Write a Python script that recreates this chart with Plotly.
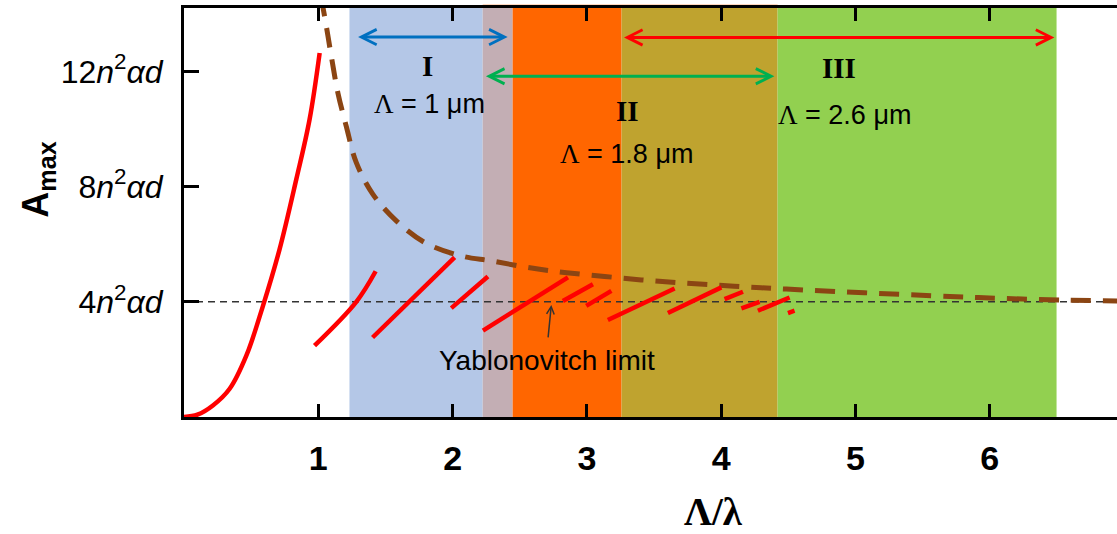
import plotly.graph_objects as go

# ---------------- data ----------------
# red curve for Lambda/lambda < 1
curve_x = [0.0, 0.1, 0.215, 0.340, 0.464, 0.588, 0.712, 0.836, 0.935, 1.01]
curve_y = [0.0, 0.08, 0.40, 0.98, 2.13, 3.86, 5.83, 8.25, 10.33, 12.64]

# brown dashed upper-limit curve
limit_x = [1.02, 1.060, 1.097, 1.146, 1.208, 1.283, 1.407, 1.581, 1.792, 2.065, 2.288,
           2.588, 2.849, 3.132, 3.405, 3.666, 3.938, 4.212, 4.485, 5.576, 6.073, 6.570, 6.95]
limit_y = [14.6, 13.56, 12.52, 11.25, 10.10, 8.83, 7.73, 6.81, 6.06, 5.59, 5.42,
           5.17, 5.01, 4.88, 4.76, 4.67, 4.59, 4.51, 4.44, 4.21, 4.12, 4.06, 4.03]

# red grating segments
seg_x = [[0.972, 1.283, 1.427], [1.404, 2.015], [1.990, 2.263], [2.226, 2.859],
         [2.821, 3.045], [2.995, 3.182], [3.156, 3.653], [3.603, 4.001],
         [4.025, 4.162], [4.150, 4.286], [4.273, 4.509], [4.497, 4.546]]
seg_y = [[2.48, 4.00, 5.06], [2.76, 5.54], [3.78, 4.88], [3.00, 4.85],
         [4.03, 4.61], [3.86, 4.38], [3.37, 4.46], [3.61, 4.50],
         [4.09, 4.35], [3.77, 4.00], [3.69, 4.15], [3.61, 3.69]]

yablonovitch = 4.0

# regions
region_names = ["I", "II", "III"]
region_periods = ["1", "1.8", "2.6"]
region_x0 = [1.232, 2.224, 3.258]
region_x1 = [2.447, 4.420, 6.497]
arrow_x0 = [1.285, 2.237, 3.265]
arrow_x1 = [2.410, 4.396, 6.481]
arrow_y = [13.19, 11.83, 13.18]

x_ticks = [1, 2, 3, 4, 5, 6]
y_ticks = [4, 8, 12]
y_ticktext = [f"{v}<i>n</i><sup>2</sup><i>α</i><i>d</i>" for v in y_ticks]

# ---------------- style ----------------
band_colors = ["#B4C7E7", "#C3AEB4", "#FF6600", "#BFA32F", "#92D050"]
arrow_colors = ["#0070C0", "#00B050", "#FF0000"]
X_RANGE = [0, 6.947]
Y_RANGE = [0, 14.2]

fig = go.Figure()

# background bands
edges = sorted(set(region_x0 + region_x1))
for i in range(len(edges) - 1):
    fig.add_shape(type="rect", xref="x", yref="paper", x0=edges[i], x1=edges[i + 1],
                  y0=0, y1=1, fillcolor=band_colors[i], line_width=0, layer="below")
# orange (region II) extends slightly above the frame
fig.add_shape(type="rect", xref="x", yref="paper", x0=region_x0[1], x1=region_x1[1],
              y0=1, y1=1.008, fillcolor="#FF6600", line_width=0, layer="below")

# Yablonovitch limit line
fig.add_trace(go.Scatter(x=X_RANGE, y=[yablonovitch, yablonovitch], mode="lines",
                         line=dict(color="#333333", width=1.5, dash="7px,5px"),
                         hoverinfo="skip", showlegend=False))

# upper-limit brown dashed curve
fig.add_trace(go.Scatter(x=limit_x, y=limit_y, mode="lines",
                         line=dict(color="#8B4513", width=5, dash="20px,12px", shape="spline"),
                         showlegend=False))

# red curve
fig.add_trace(go.Scatter(x=curve_x, y=curve_y, mode="lines",
                         line=dict(color="#FF0000", width=4.5, shape="spline", smoothing=1.0),
                         showlegend=False))
for sx, sy in zip(seg_x, seg_y):
    fig.add_trace(go.Scatter(x=sx, y=sy, mode="lines",
                             line=dict(color="#FF0000", width=4.5, shape="spline"),
                             showlegend=False))

# double arrows
for x0, x1, y, c in zip(arrow_x0, arrow_x1, arrow_y, arrow_colors):
    fig.add_annotation(x=x1, y=y, ax=x0, ay=y, xref="x", yref="y", axref="x", ayref="y",
                       text="", showarrow=True, arrowhead=5, startarrowhead=5,
                       arrowside="end+start", arrowsize=1.0, startarrowsize=1.0,
                       arrowwidth=3, arrowcolor=c, standoff=0, startstandoff=0)

# region labels
name_pos = [(1.816, 12.17), (3.305, 10.61), (4.876, 12.12)]
period_pos = [(1.829, 10.85), (3.296, 9.12), (4.915, 10.50)]
for name, per, (nx, ny), (px, py) in zip(region_names, region_periods, name_pos, period_pos):
    fig.add_annotation(x=nx, y=ny, xref="x", yref="y", text=f"<b>{name}</b>", showarrow=False,
                       font=dict(family="Liberation Serif, Times New Roman", size=29, color="black"))
    fig.add_annotation(x=px, y=py, xref="x", yref="y",
                       text=f"<span style='font-family:Liberation Serif'>Λ</span> = {per} μm",
                       showarrow=False,
                       font=dict(family="Liberation Sans, Arial", size=27, color="black"))

# Yablonovitch label with arrow
fig.add_annotation(x=2.700, y=1.95, xref="x", yref="y", text="Yablonovitch limit",
                   showarrow=False, font=dict(family="Liberation Sans, Arial", size=28, color="black"))
fig.add_annotation(x=2.735, y=3.89, ax=2.710, ay=2.71, xref="x", yref="y", axref="x", ayref="y",
                   text="", showarrow=True, arrowhead=5, arrowsize=1, arrowwidth=1.5,
                   arrowcolor="#333333", standoff=0)

# axis titles
fig.add_annotation(x=0.568, y=-0.232, xref="paper", yref="paper", text="<b>Λ/λ</b>",
                   showarrow=False, yanchor="middle",
                   font=dict(family="Liberation Serif, Times New Roman", size=39, color="black"))
fig.add_annotation(x=-0.1565, y=0.58, xref="paper", yref="paper",
                   text="<b>A</b><sub><b>max</b></sub>", textangle=-90, showarrow=False,
                   xanchor="center", yanchor="middle",
                   font=dict(family="Liberation Sans, Arial", size=36, color="black"))

fig.update_xaxes(range=X_RANGE, tickvals=x_ticks, ticks="inside", ticklen=13, tickwidth=2.5,
                 tickcolor="black", showline=True, linecolor="black", linewidth=3,
                 mirror="allticks", showgrid=False, zeroline=False, ticklabelstandoff=9,
                 tickfont=dict(family="Liberation Sans Narrow, Arial Narrow, Liberation Sans",
                               size=34, color="black", weight="bold"))
fig.update_yaxes(range=Y_RANGE, tickvals=y_ticks, ticktext=y_ticktext, ticks="inside",
                 ticklen=15, tickwidth=2.5, tickcolor="black", showline=True, linecolor="black",
                 linewidth=3, mirror=False, showgrid=False, zeroline=False, ticklabelstandoff=12,
                 tickfont=dict(family="Liberation Sans, Arial", size=32, color="black"))

fig.update_layout(width=1117, height=534, margin=dict(l=184, r=0, t=8, b=117),
                  plot_bgcolor="white", paper_bgcolor="white", showlegend=False)

fig.write_html("out.html", config={"displayModeBar": False},
               post_script="document.body.style.margin='0px';")
